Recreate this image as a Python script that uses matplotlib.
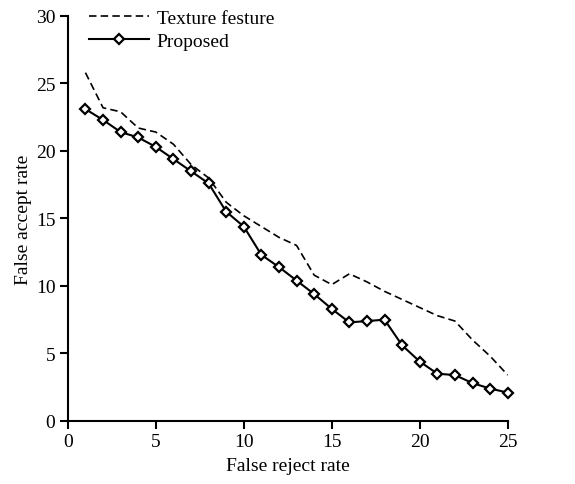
import matplotlib
matplotlib.use("Agg")
import matplotlib.pyplot as plt

plt.rcParams['font.family'] = ['Liberation Serif', 'DejaVu Serif']

frr = list(range(1, 26))
texture = [25.8, 23.2, 22.9, 21.7, 21.4, 20.5, 19.0, 18.0, 16.2, 15.2,
           14.4, 13.6, 13.0, 10.8, 10.1, 10.9, 10.3, 9.6, 9.0, 8.4,
           7.8, 7.4, 6.0, 4.8, 3.4]
proposed = [23.1, 22.3, 21.4, 21.0, 20.3, 19.4, 18.5, 17.6, 15.5, 14.4,
            12.3, 11.4, 10.4, 9.4, 8.3, 7.3, 7.4, 7.5, 5.6, 4.4,
            3.5, 3.4, 2.8, 2.4, 2.1]

fig = plt.figure(figsize=(5.75, 4.85), dpi=100)
ax = fig.add_axes([0.118, 0.130, 0.765, 0.835])

ax.plot(frr, texture, color='black', linestyle=(0, (4.5, 2.5)), linewidth=1.2,
        label='Texture festure')
ax.plot(frr, proposed, color='black', linewidth=1.5, marker='D', markersize=5.5,
        markerfacecolor='white', markeredgecolor='black', markeredgewidth=1.6,
        label='Proposed', clip_on=False)

ax.set_xlim(0, 25)
ax.set_ylim(0, 30)
ax.set_xticks([0, 5, 10, 15, 20, 25])
ax.set_yticks([0, 5, 10, 15, 20, 25, 30])
ax.spines['top'].set_visible(False)
ax.spines['right'].set_visible(False)
ax.spines['left'].set_linewidth(1.5)
ax.spines['bottom'].set_linewidth(1.5)
ax.tick_params(direction='out', length=6, width=1.5, labelsize=14, pad=3)
ax.set_xlabel('False reject rate', fontsize=14, labelpad=5)
ax.set_ylabel('False accept rate', fontsize=14, labelpad=3)

ax.legend(loc='upper left', bbox_to_anchor=(0.03, 1.035), frameon=False,
          fontsize=14, handlelength=3.1, handletextpad=0.4, labelspacing=0.25,
          borderaxespad=0)

fig.savefig('out.png', dpi=100)
